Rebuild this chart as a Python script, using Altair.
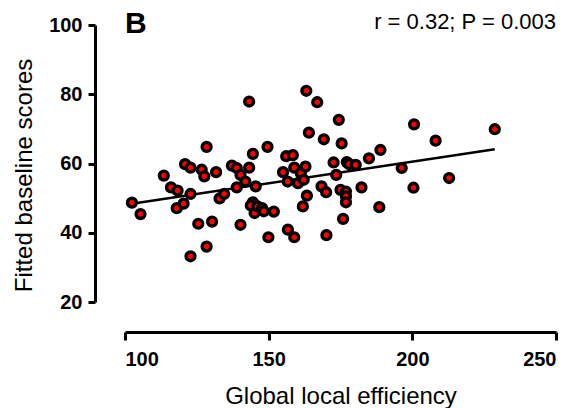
import altair as alt
import pandas as pd

efficiency = [102.4, 105.4, 113.5, 116.0, 118.3, 118.0, 120.4, 120.9, 122.8, 122.8,
              122.8, 125.5, 126.7, 127.6, 128.4, 128.4, 130.3, 131.7, 132.9, 134.5,
              137.2, 138.9, 138.9, 140.2, 140.2, 141.9, 143.2, 143.2, 144.5, 144.5,
              143.8, 145.5, 145.1, 146.1, 147.7, 148.3, 149.6, 149.9, 151.8, 155.0,
              156.1, 156.6, 156.7, 158.4, 158.9, 158.9, 160.2, 161.2, 161.9, 162.2,
              162.8, 163.3, 163.1, 164.0, 166.9, 168.4, 169.2, 170.0, 170.1, 172.6,
              173.5, 174.4, 175.4, 175.0, 175.9, 176.9, 176.9, 176.9, 177.2, 178.0,
              180.3, 182.3, 184.9, 188.5, 188.9, 196.3, 200.4, 200.6, 208.1, 212.8,
              228.7]
scores = [48.7, 45.4, 56.5, 53.1, 52.2, 47.1, 48.4, 59.8, 58.8, 51.2,
          33.2, 42.6, 58.2, 56.3, 64.8, 36.0, 43.2, 57.5, 49.9, 51.2,
          59.4, 58.7, 53.1, 56.7, 42.3, 54.8, 77.9, 58.8, 62.8, 48.8,
          47.9, 53.4, 45.7, 47.6, 47.1, 46.2, 64.8, 38.7, 46.1, 57.5,
          62.1, 54.8, 40.9, 62.4, 58.8, 38.7, 54.3, 57.2, 47.6, 55.3,
          59.1, 50.7, 81.0, 68.9, 77.7, 53.4, 67.0, 51.7, 39.3, 60.3,
          56.7, 72.6, 65.8, 52.4, 44.0, 51.9, 50.5, 48.8, 60.4, 59.8,
          59.6, 53.1, 61.5, 47.4, 63.9, 58.7, 53.0, 71.3, 66.6, 55.8,
          69.9]

x_ticks = [100, 150, 200, 250]
y_ticks = [20, 40, 60, 80, 100]
panel_label = "B"
stats_label = "r = 0.32; P = 0.003"

df = pd.DataFrame({"eff": efficiency, "score": scores})
FONT = "Liberation Sans"

x_enc = alt.X("eff:Q", scale=alt.Scale(domain=[100, 250], nice=False, zero=False),
              axis=alt.Axis(values=x_ticks, title="Global local efficiency", offset=30,
                            grid=False, domainWidth=3, domainColor="black",
                            tickSize=8, tickWidth=3, tickColor="black",
                            labelFont=FONT, labelFontSize=20, labelFontWeight="bold",
                            labelColor="black", labelPadding=9,
                            titleFont=FONT, titleFontSize=24, titleFontWeight="normal",
                            titleColor="black", titlePadding=15))
y_enc = alt.Y("score:Q", scale=alt.Scale(domain=[20, 100], nice=False, zero=False),
              axis=alt.Axis(values=y_ticks, title="Fitted baseline scores", offset=30,
                            grid=False, domainWidth=3, domainColor="black",
                            tickSize=7, tickWidth=3, tickColor="black",
                            labelFont=FONT, labelFontSize=20, labelFontWeight="bold",
                            labelColor="black", labelPadding=6,
                            titleFont=FONT, titleFontSize=24, titleFontWeight="normal",
                            titleColor="black", titlePadding=12, titleY=150))

base = alt.Chart(df)
points = base.mark_point(shape="circle", filled=True, fill="#ff0000", stroke="black",
                         strokeWidth=3.3, size=80, opacity=1).encode(x=x_enc, y=y_enc)
fit = base.transform_regression("eff", "score").mark_line(color="black", strokeWidth=2.5).encode(
    x="eff:Q", y="score:Q")

lab = alt.Chart(pd.DataFrame({"t": [panel_label]})).mark_text(
    font=FONT, fontSize=30, fontWeight="bold", align="left", baseline="alphabetic", color="black"
).encode(text="t:N", x=alt.value(0), y=alt.value(8))
stats = alt.Chart(pd.DataFrame({"t": [stats_label]})).mark_text(
    font=FONT, fontSize=22, align="right", baseline="alphabetic", color="black"
).encode(text="t:N", x=alt.value(431), y=alt.value(4))

chart = alt.layer(fit, points, lab, stats).properties(
    width=431, height=277,
    background="white",
    autosize=alt.AutoSizeParams(type="none"),
    padding={"left": 117, "top": 17, "right": 14, "bottom": 106},
).configure_view(strokeWidth=0, stroke=None)

chart.save("out.html", embed_options={"renderer": "svg", "actions": False})

with open("out.html", "r", encoding="utf-8") as f:
    html = f.read()
html = html.replace("<head>", "<head><style>html,body{overflow:hidden;}</style>", 1)
with open("out.html", "w", encoding="utf-8") as f:
    f.write(html)
